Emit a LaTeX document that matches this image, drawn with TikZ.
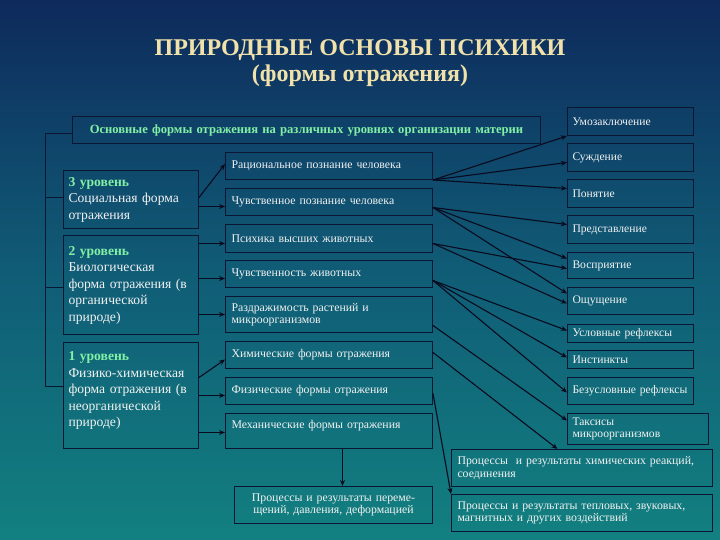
\documentclass[tikz,border=0pt]{standalone}
\usepackage{fontspec}
\setmainfont{Liberation Serif}
\usetikzlibrary{arrows.meta}
\definecolor{bgtop}{RGB}{14,42,92}
\definecolor{bgmid}{RGB}{16,92,118}
\definecolor{bgbot}{RGB}{18,128,128}
\definecolor{edgec}{RGB}{10,22,50}
\definecolor{txtc}{RGB}{242,242,242}
\definecolor{grn}{RGB}{130,240,165}
\definecolor{ttl}{RGB}{240,226,170}
\definecolor{arrc}{RGB}{8,10,30}
\begin{document}
\begin{tikzpicture}[x=1pt,y=-1pt,
  box/.style={draw=edgec, line width=1pt, anchor=north west, inner xsep=6pt, inner ysep=1pt,
    align=left, text=txtc, font=\fontsize{11.8}{12.5}\selectfont},
  lvl/.style={box, inner xsep=5pt, text width=125pt, font=\fontsize{13.6}{16.5}\selectfont},
  mid/.style={box, text width=195pt},
  rgt/.style={box, inner xsep=5pt, text width=116pt, font=\fontsize{11.6}{12.5}\selectfont},
  bot/.style={box, text width=249pt, minimum height=37pt},
  arr/.style={draw=arrc, line width=1.1pt, -{Stealth[length=6pt,width=5pt]}},
  conn/.style={draw=edgec, line width=1pt},
  ttlstyle/.style={text=ttl, font=\fontsize{24}{26}\selectfont\bfseries}
]
\useasboundingbox (0,0) rectangle (720,540);
\shade[top color=bgtop, bottom color=bgbot, middle color=bgmid] (0,0) rectangle (720,540);

% title
\node[ttlstyle] (t1) at (360,50) {ПРИРОДНЫЕ ОСНОВЫ ПСИХИКИ};
\node[ttlstyle] (t2) at (360,76) {(формы отражения)};

% header
\node[box, text width=456pt, align=center, minimum height=27pt, text=grn,
  font=\fontsize{12.6}{13}\selectfont\bfseries] (hdr) at (72,116)
  {Основные формы отражения на различных уровнях организации материи};

% level boxes
\node[lvl, minimum height=58pt] (l3) at (63,170)
  {\textcolor{grn}{\textbf{3 уровень}}\\Социальная форма\\отражения};
\node[lvl, minimum height=99pt] (l2) at (63,235)
  {\textcolor{grn}{\textbf{2 уровень}}\\Биологическая\\форма отражения (в\\органической\\природе)};
\node[lvl, minimum height=106pt] (l1) at (63,342)
  {\textcolor{grn}{\textbf{1 уровень}}\\Физико-химическая\\форма отражения (в\\неорганической\\природе)\\[-4pt]\mbox{}};

% middle boxes
\node[mid, minimum height=27pt] (m1) at (225,152) {Рациональное познание человека};
\node[mid, minimum height=27pt] (m2) at (225,188) {Чувственное познание человека};
\node[mid, minimum height=28pt] (m3) at (225,224) {Психика высших животных};
\node[mid, minimum height=27pt] (m4) at (225,260) {Чувственность животных};
\node[mid, minimum height=36pt] (m5) at (225,296) {Раздражимость растений и\\микроорганизмов};
\node[mid, minimum height=27pt] (m6) at (225,341) {Химические формы отражения};
\node[mid, minimum height=27pt] (m7) at (225,377) {Физические формы отражения};
\node[mid, minimum height=35pt] (m8) at (225,413) {Механические формы отражения\\\mbox{}};

% right boxes
\node[rgt, minimum height=28pt] (r1) at (567,107) {Умозаключение};
\node[rgt, minimum height=28pt] (r2) at (567,143) {Суждение};
\node[rgt, minimum height=28pt] (r3) at (567,179) {Понятие};
\node[rgt, minimum height=28pt] (r4) at (567,215) {Представление};
\node[rgt, minimum height=26pt] (r5) at (567,252) {Восприятие};
\node[rgt, minimum height=27pt] (r6) at (567,287) {Ощущение};
\node[rgt, minimum height=18pt] (r7) at (567,324) {Условные рефлексы};
\node[rgt, minimum height=18pt] (r8) at (567,350) {Инстинкты};
\node[rgt, minimum height=27pt] (r9) at (567,377) {\mbox{Безусловные рефлексы}};
\node[rgt, text width=131pt, minimum height=31pt] (r10) at (567,413) {Таксисы\\микроорганизмов};

% bottom boxes
\node[bot] (b1) at (451,449) {Процессы \ и результаты химических реакций,\\соединения};
\node[bot] (b2) at (451,494) {Процессы и результаты тепловых, звуковых,\\магнитных и других воздействий};
\node[bot, text width=186pt, align=center] (b3) at (234,486) {Процессы и результаты переме-\\щений, давления, деформацией};

% bracket
\coordinate (h0) at ([yshift=-3.5pt]hdr.west);
\coordinate (k3) at ([yshift=2pt]l3.west);
\coordinate (k2) at ([yshift=-2.5pt]l2.west);
\coordinate (k1) at ([yshift=9pt]l1.west);
\draw[conn] (h0) -- ++(-27,0) coordinate (bt) -- (bt |- k1) -- (k1);
\draw[conn] (bt |- k3) -- (k3);
\draw[conn] (bt |- k2) -- (k2);

% level -> middle
\draw[arr] ([yshift=2pt]l3.east) -- ([yshift=2pt]m1.west);
\coordinate (e2) at ([yshift=-7pt]l3.east);
\draw[arr] (e2) -- (e2 -| m2.west);
\coordinate (e3) at ([yshift=-5pt]m3.west);
\draw[arr] (e3 -| l2.east) -- (e3);
\coordinate (e4) at ([yshift=-4.5pt]m4.west);
\draw[arr] (e4 -| l2.east) -- (e4);
\draw[arr] (m5.west -| l2.east) -- (m5.west);
\draw[arr] ([yshift=18pt]l1.east) -- ([yshift=-4.5pt]m6.west);
\coordinate (e7) at ([yshift=-4.5pt]m7.west);
\draw[arr] (e7 -| l1.east) -- (e7);
\coordinate (e8) at ([yshift=-1.5pt]m8.west);
\draw[arr] (e8 -| l1.east) -- (e8);

% middle -> right
\draw[arr] (m1.south east) -- (r1.south west);
\draw[arr] (m1.south east) -- ([yshift=-5pt]r2.west);
\draw[arr] (m1.south east) -- ([yshift=5pt]r3.west);
\coordinate (s2) at ([yshift=-5.5pt]m2.east);
\draw[arr] (s2) -- ([yshift=5pt]r4.west);
\draw[arr] (s2) -- ([yshift=7pt]r5.west);
\draw[arr] (s2) -- ([yshift=7.5pt]r6.west);
\coordinate (s3) at ([yshift=-5pt]m3.east);
\draw[arr] (s3) -- ([yshift=-3pt]r5.west);
\draw[arr] (s3) -- ([yshift=-2.5pt]r6.west);
\coordinate (s4) at ([yshift=-6.5pt]m4.east);
\draw[arr] (s4) -- ([yshift=3pt]r7.west);
\draw[arr] (s4) -- ([yshift=2pt]r8.west);
\draw[arr] (s4) -- ([yshift=-1.5pt]r9.west);
\coordinate (s5) at ([yshift=-11pt]m5.east);
\draw[arr] (s5) -- ([yshift=8.5pt]r10.west);
\coordinate (s6) at ([yshift=2.5pt]m6.east);
\draw[arr] (s6) -- ([xshift=-24.5pt]b1.north);
\coordinate (s7) at ([yshift=-2.5pt]m7.east);
\draw[arr] (s7) -- (b2.north west);
\coordinate (e9) at ([xshift=9pt]b3.north);
\draw[arr] (m8.south -| e9) -- (e9);
\end{tikzpicture}
\end{document}
